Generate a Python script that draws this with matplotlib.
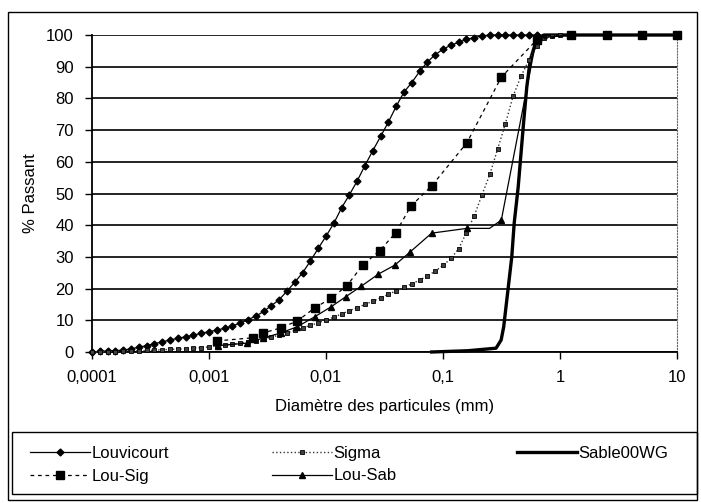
import matplotlib
matplotlib.use("Agg")
import matplotlib.pyplot as plt
import matplotlib.ticker as ticker
from matplotlib.patches import Rectangle

plt.rcParams['font.family'] = ['Liberation Sans', 'DejaVu Sans']

# laser granulometry grid (mm), shared by Louvicourt and Sigma
d_laser = [0.0001, 0.000117, 0.000136, 0.000158, 0.000185, 0.000215, 0.000251, 0.000293, 0.000341, 0.000398,
           0.000464, 0.000541, 0.000631, 0.000736, 0.000858, 0.001, 0.00117, 0.00136, 0.00158, 0.00185,
           0.00215, 0.00251, 0.00293, 0.00341, 0.00398, 0.00464, 0.00541, 0.00631, 0.00736, 0.00858,
           0.01, 0.0117, 0.0136, 0.0158, 0.0185, 0.0215, 0.0251, 0.0293, 0.0341, 0.0398,
           0.0464, 0.0541, 0.0631, 0.0736, 0.0858, 0.1, 0.117, 0.136, 0.158, 0.185,
           0.215, 0.251, 0.293, 0.341, 0.398, 0.464, 0.541, 0.631, 0.736, 0.858, 1.0]

louvicourt = [0, 0.2, 0.3, 0.4, 0.6, 1.0, 1.5, 2.0, 2.6, 3.2,
              3.8, 4.3, 4.8, 5.3, 5.9, 6.4, 6.9, 7.5, 8.2, 9.1,
              10.2, 11.3, 12.8, 14.6, 16.5, 19.2, 22, 25, 28.7, 32.7,
              36.5, 40.7, 45.5, 49.5, 54, 58.8, 63.5, 68, 72.5, 77.5,
              82, 85, 88.5, 91.5, 93.8, 95.5, 96.8, 97.7, 98.6, 99.2,
              99.7, 100, 100, 100, 100, 100, 100, 100]

sigma = [0, 0, 0.1, 0.1, 0.2, 0.3, 0.4, 0.5, 0.6, 0.7,
         0.8, 0.9, 1.0, 1.2, 1.4, 1.6, 1.9, 2.2, 2.5, 2.8,
         3.2, 3.6, 4.1, 4.7, 5.3, 6.0, 6.8, 7.6, 8.4, 9.2,
         10.1, 11.0, 12.0, 13.0, 14.0, 15.0, 16.0, 17.1, 18.2, 19.3,
         20.4, 21.5, 22.7, 24.0, 25.5, 27.3, 29.5, 32.6, 37.5, 43,
         49.5, 56, 64, 72, 80.8, 87, 92, 96.5, 99, 99.8, 100]

# sieve + hydrometer mixtures
d_lousig = [0.00117, 0.0024, 0.0029, 0.0041, 0.0057, 0.008, 0.0111, 0.015, 0.0206, 0.0288,
            0.0394, 0.0531, 0.08, 0.16, 0.315, 0.63, 1.25, 2.5, 5, 10]
lousig = [3.5, 4.5, 6, 7.6, 9.8, 13.9, 17, 20.8, 27.4, 32,
          37.6, 46, 52.4, 66, 86.7, 98.4, 100, 100, 100, 100]

d_lousab = [0.0012, 0.0021, 0.0029, 0.0041, 0.0057, 0.008, 0.0111, 0.0147, 0.0201, 0.0281,
            0.0387, 0.0525, 0.08, 0.16, 0.25, 0.315, 0.63, 1.25, 2.5, 5, 10]
lousab = [2.0, 2.8, 4.4, 6, 8, 11.1, 14.3, 17.4, 20.8, 24.6,
          27.4, 31.6, 37.5, 39, 39, 41.6, 99, 100, 100, 100, 100]
lousab_marks = [0, 1, 2, 3, 4, 5, 6, 7, 8, 9, 10, 11, 12, 13, 15, 16, 17, 18, 19, 20]

d_sable = [0.08, 0.163, 0.284, 0.314, 0.33, 0.387, 0.406, 0.439, 0.49, 0.52, 0.556, 0.6, 0.64, 0.73, 1, 10]
sable = [0, 0.4, 1.2, 3.8, 7.9, 30, 40.7, 52, 73, 83.6, 92, 96, 99, 100, 100, 100]

fig = plt.figure(figsize=(7.01, 5.03), dpi=100)
ax = fig.add_axes([0.1312, 0.3002, 0.8346, 0.6302])

ax.plot(d_laser[:len(louvicourt)], louvicourt, '-', color='k', lw=0.9, marker='D', ms=3.5,
        label='Louvicourt', clip_on=False, zorder=4)
ax.plot(d_laser[:len(sigma)], sigma, ':', color='0.2', lw=1.0, marker='s', ms=3.4, mfc='0.25', mec='k',
        mew=0.6, label='Sigma', clip_on=False, zorder=4)
ax.plot(d_sable, sable, '-', color='k', lw=2.4, label='Sable00WG', clip_on=False, zorder=3)
ax.plot(d_lousig, lousig, '--', color='k', lw=0.9, dashes=(3, 3), marker='s', ms=6,
        label='Lou-Sig', clip_on=False, zorder=5)
ax.plot(d_lousab, lousab, '-', color='k', lw=0.9, marker='^', ms=5, markevery=lousab_marks,
        label='Lou-Sab', clip_on=False, zorder=5)

ax.set_xscale('log')
ax.set_xlim(0.0001, 10)
ax.set_ylim(0, 100)
ax.set_yticks(range(0, 101, 10))
ax.set_xticks([0.0001, 0.001, 0.01, 0.1, 1, 10])
ax.set_xticklabels(['0,0001', '0,001', '0,01', '0,1', '1', '10'])
ax.xaxis.set_minor_locator(ticker.NullLocator())
ax.yaxis.grid(True, color='k', lw=1.2)
ax.set_axisbelow(True)
ax.tick_params(labelsize=12, length=5, width=1, color='k', pad=8)
ax.spines['top'].set_visible(False)
ax.spines['right'].set_linestyle(':')
ax.spines['right'].set_color('0.4')
ax.spines['left'].set_linewidth(1.3)
ax.spines['bottom'].set_linewidth(1.3)

ax.set_xlabel('Diamètre des particules (mm)', fontsize=12, labelpad=10)
ax.set_ylabel('% Passant', fontsize=12, labelpad=6)

# legend: one column per block, framed by a single box
h, l = ax.get_legend_handles_labels()
columns = [([0, 3], 30), ([1, 4], 272), ([2], 517)]
for idx, xpix in columns:
    lg = fig.legend([h[i] for i in idx], [l[i] for i in idx], loc='upper left',
                    bbox_to_anchor=(xpix / 701, 1 - 446 / 503), frameon=False, fontsize=12,
                    handlelength=3.6, handletextpad=0.1, borderpad=0, borderaxespad=0,
                    labelspacing=0.45)
fig.patches.append(Rectangle((12 / 701, 1 - 494 / 503), 685 / 701, 62 / 503, transform=fig.transFigure,
                             fill=False, edgecolor='k', lw=1.0))

fig.patches.append(Rectangle((0.011, 0.006), 0.983, 0.97, transform=fig.transFigure,
                             fill=False, edgecolor='k', lw=1.0))

plt.savefig('out.png', dpi=100)
